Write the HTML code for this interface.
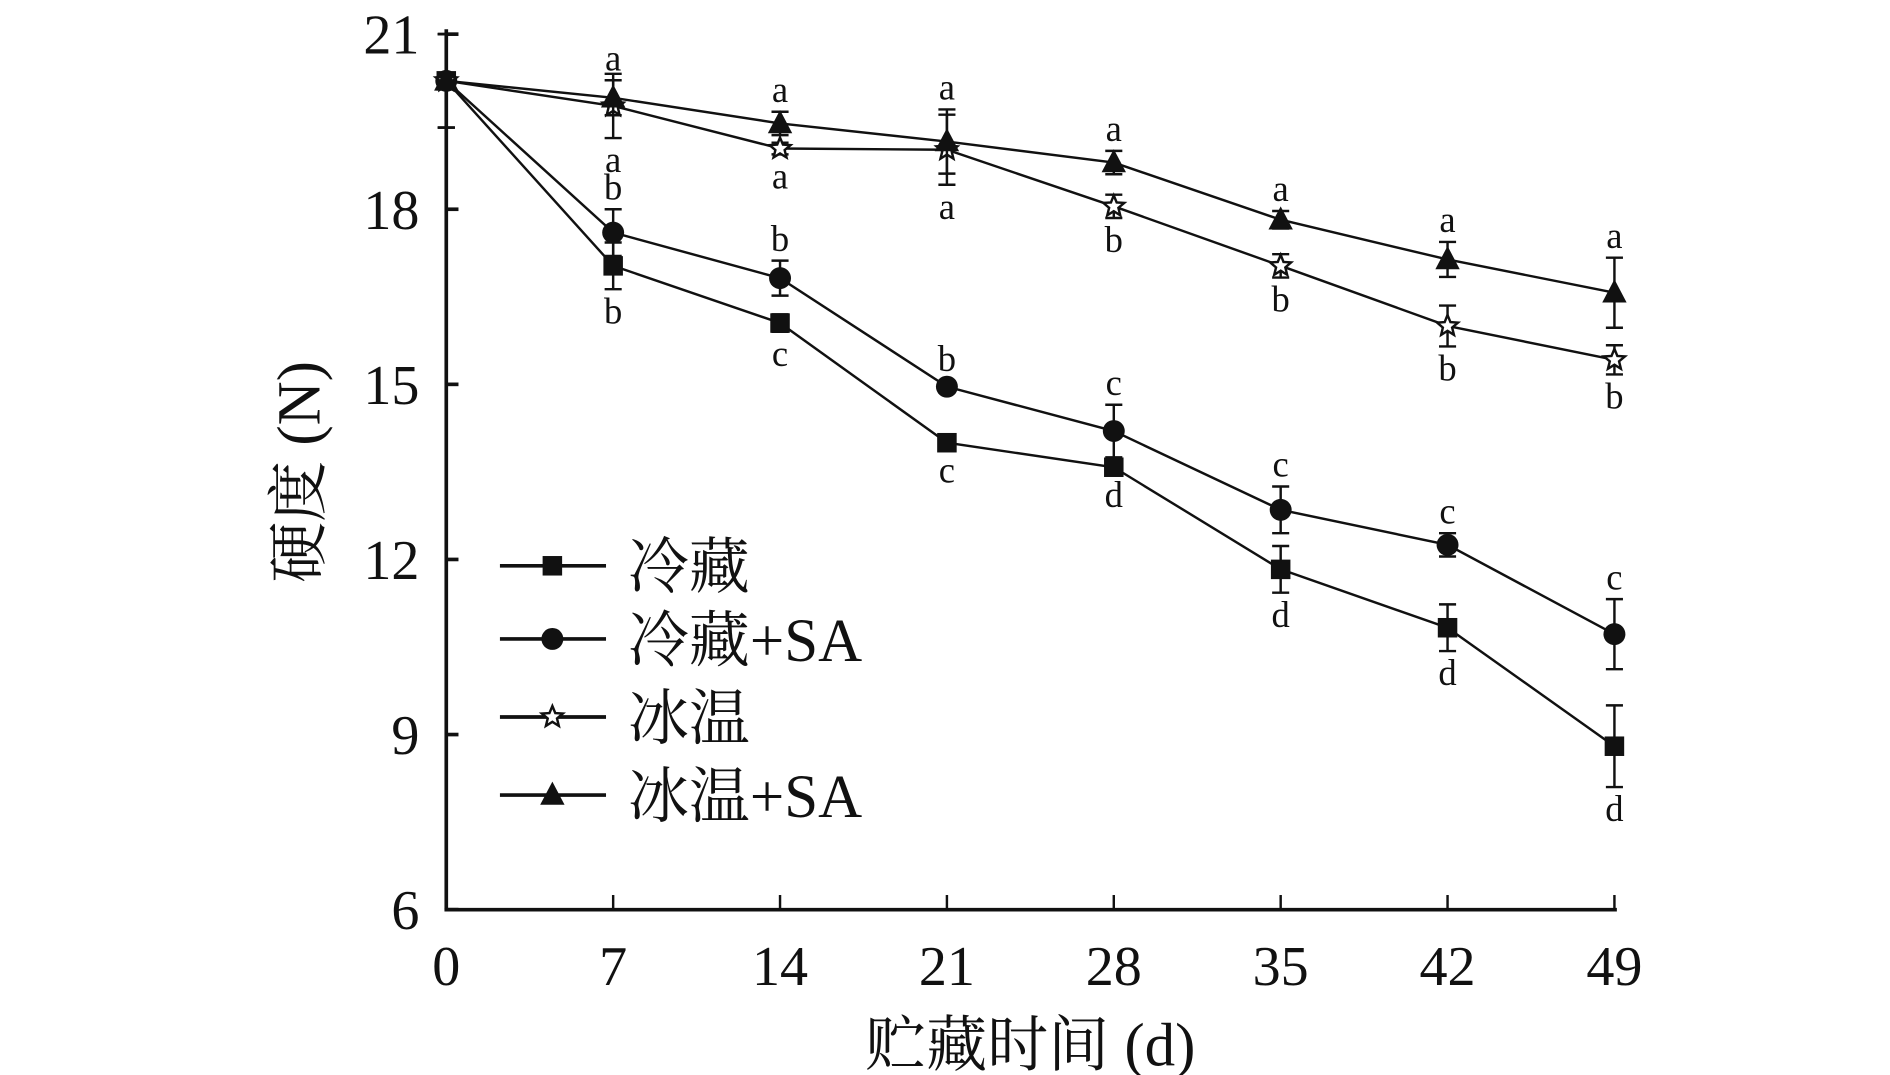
<!DOCTYPE html>
<html><head><meta charset="utf-8"><style>
html,body{margin:0;padding:0;background:#fff;}
svg{display:block;}
text{font-family:"Liberation Serif","Noto Serif CJK SC",serif;fill:#111;}
</style></head><body>
<svg id="chart" width="1890" height="1075" viewBox="0 0 1550 881.6" xmlns="http://www.w3.org/2000/svg">
<g id="axes"></g>
<g id="series"></g>
<g id="legend"></g>
</svg>
<script>
const days = [0, 7, 14, 21, 28, 35, 42, 49];
const yTicks = [6, 9, 12, 15, 18, 21];
const seriesNames = ["冷藏", "冷藏+SA", "冰温", "冰温+SA"];
const coldVals = [20.2, 17.03, 16.05, 14.0, 13.58, 11.83, 10.83, 8.8];
const coldErr = [0.8, 0.4, 0.15, 0.1, 0.1, 0.4, 0.4, 0.7];
const coldSAVals = [20.2, 17.6, 16.82, 14.96, 14.2, 12.85, 12.25, 10.72];
const coldSAErr = [0.8, 0.4, 0.3, 0.1, 0.45, 0.4, 0.2, 0.6];
const iceVals = [20.2, 19.77, 19.04, 19.02, 18.05, 17.03, 16.0, 15.42];
const iceErr = [0.8, 0.55, 0.1, 0.6, 0.2, 0.2, 0.35, 0.25];
const iceSAVals = [20.2, 19.91, 19.47, 19.16, 18.8, 17.82, 17.14, 16.57];
const iceSAErr = [0.8, 0.3, 0.2, 0.55, 0.2, 0.15, 0.3, 0.6];
const coldLetters = ["", "b", "c", "c", "d", "d", "d", "d"];
const coldSALetters = ["", "b", "b", "b", "c", "c", "c", "c"];
const iceLetters = ["", "a", "a", "a", "b", "b", "b", "b"];
const iceSALetters = ["", "a", "a", "a", "a", "a", "a", "a"];

const NS = "http://www.w3.org/2000/svg";
const X0 = 366, X1 = 1324, Y0 = 746, Y1 = 28;
function xs(d){ return X0 + (d - 0) / 49 * (X1 - X0); }
function ys(v){ return Y0 - (v - 6) / 15 * (Y0 - Y1); }
function mk(tag, attrs, parent){ const e = document.createElementNS(NS, tag); for (const k in attrs) e.setAttribute(k, attrs[k]); parent.appendChild(e); return e; }

const axes = document.getElementById('axes');
let e = mk('line', {x1: X0, y1: Y1 - 4, x2: X0, y2: Y0, stroke: '#111', 'stroke-width': 3}, axes);


e = mk('line', {x1: X0 - 1.5, y1: Y0, x2: X1 + 2, y2: Y0, stroke: '#111', 'stroke-width': 3}, axes);


yTicks.forEach(t => {
  const y = ys(t);
  const l = mk('line', {x1: X0, y1: y, x2: X0 + 10, y2: y, stroke: '#111', 'stroke-width': 3}, axes);
  
  
  const tx = mk('text', {x: X0 - 22, y: y + 16, 'text-anchor': 'end', 'font-size': 46}, axes);
  tx.textContent = t;
  
  
});
days.forEach(d => {
  const x = xs(d);
  if (d > 0) {
    const l = mk('line', {x1: x, y1: Y0, x2: x, y2: Y0 - 12, stroke: '#111', 'stroke-width': 2}, axes);
    
    
  }
  const tx = mk('text', {x: x, y: Y0 + 62, 'text-anchor': 'middle', 'font-size': 46}, axes);
  tx.textContent = d;
  
  
});
e = mk('text', {x: 845, y: 874, 'text-anchor': 'middle', 'font-size': 50}, axes);
e.textContent = '贮藏时间 (d)';


e = mk('text', {x: 0, y: 0, 'text-anchor': 'middle', 'font-size': 50, transform: 'translate(262,387) rotate(-90)'}, axes);
e.textContent = '硬度 (N)';



function marker(type, x, y, parent){
  let m;
  if (type === 'square') m = mk('rect', {x: x - 8, y: y - 8, width: 16, height: 16, fill: '#111'}, parent);
  else if (type === 'circle') m = mk('circle', {cx: x, cy: y, r: 9, fill: '#111'}, parent);
  else if (type === 'triangle') m = mk('polygon', {points: `${x},${y-11} ${x-10},${y+8} ${x+10},${y+8}`, fill: '#111'}, parent);
  else {
    const pts = [];
    for (let i = 0; i < 10; i++) { const r = i % 2 ? 4 : 9; const a = -Math.PI/2 + i * Math.PI/5; pts.push((x + r*Math.cos(a)).toFixed(1) + ',' + (y + r*Math.sin(a)).toFixed(1)); }
    m = mk('polygon', {points: pts.join(' '), fill: '#fff', stroke: '#111', 'stroke-width': 2}, parent);
  }
  return m;
}

const seriesDefs = [
  {vals: coldVals, err: coldErr, letters: coldLetters, type: 'square', pos: 'below', name: 'series-cold'},
  {vals: coldSAVals, err: coldSAErr, letters: coldSALetters, type: 'circle', pos: 'above', name: 'series-cold-sa'},
  {vals: iceVals, err: iceErr, letters: iceLetters, type: 'star', pos: 'below', name: 'series-ice'},
  {vals: iceSAVals, err: iceSAErr, letters: iceSALetters, type: 'triangle', pos: 'above', name: 'series-ice-sa'}
];
const sg = document.getElementById('series');
seriesDefs.forEach(s => {
  const g = mk('g', {}, sg);
  
  
  const pts = days.map((d, i) => xs(d).toFixed(1) + ',' + ys(s.vals[i]).toFixed(1)).join(' ');
  const pl = mk('polyline', {points: pts, fill: 'none', stroke: '#111', 'stroke-width': 2}, g);
  
  
  days.forEach((d, i) => {
    const x = xs(d), y = ys(s.vals[i]);
    const yt = ys(s.vals[i] + s.err[i]), yb = ys(s.vals[i] - s.err[i]);
    const eb = mk('path', {d: `M${x},${yt}V${yb}M${x-7},${yt}H${x+7}M${x-7},${yb}H${x+7}`, stroke: '#111', 'stroke-width': 2, fill: 'none'}, g);
    
    
    const m = marker(s.type, x, y, g);
    
    
    if (s.letters[i]) {
      const ty = s.pos === 'above' ? yt - 8 : yb + 28;
      const t = mk('text', {x: x, y: ty, 'text-anchor': 'middle', 'font-size': 30}, g);
      t.textContent = s.letters[i];
      
      
    }
  });
});

const lg = document.getElementById('legend');
const legendTypes = ['square', 'circle', 'star', 'triangle'];
const legendY = [464, 524, 588, 652];
seriesNames.forEach((n, i) => {
  const g = mk('g', {}, lg);
  
  
  mk('line', {x1: 410, y1: legendY[i], x2: 497, y2: legendY[i], stroke: '#111', 'stroke-width': 3}, g);
  marker(legendTypes[i], 453, legendY[i], g);
  const t = mk('text', {x: 515, y: legendY[i] + 18, 'font-size': 50}, g);
  t.textContent = n;
});
</script>
</body></html>
